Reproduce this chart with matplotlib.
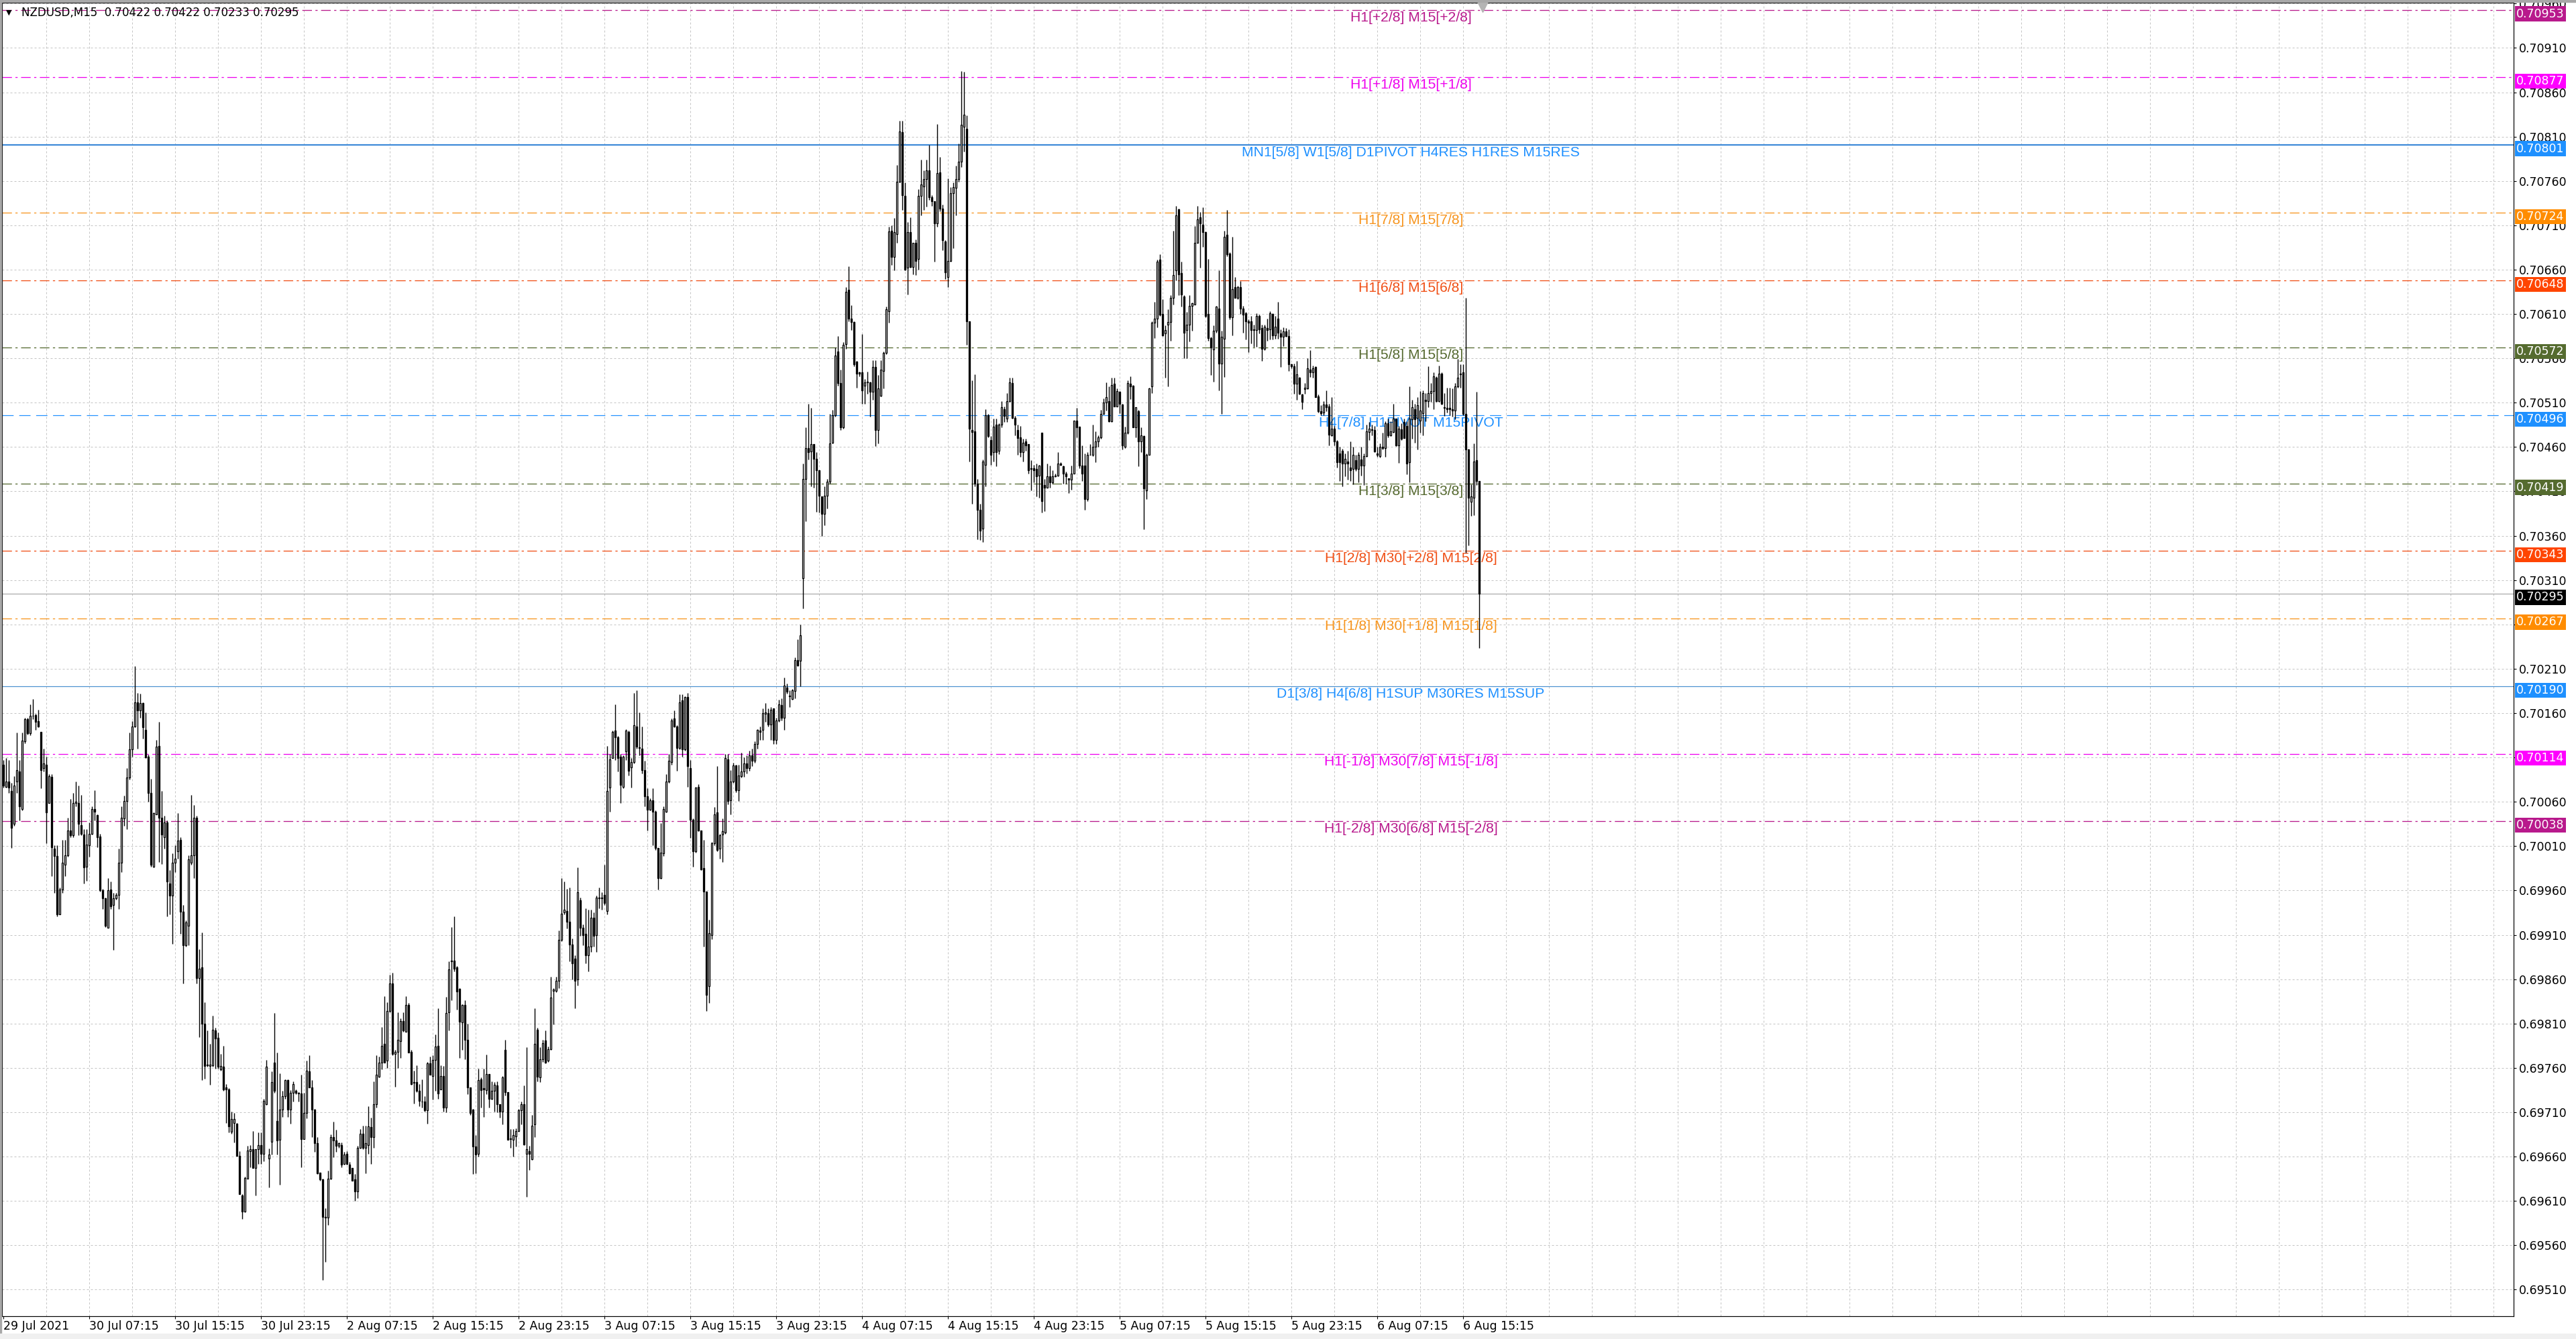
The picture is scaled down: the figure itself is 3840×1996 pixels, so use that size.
import numpy as np
import matplotlib
matplotlib.use("Agg")
import matplotlib.pyplot as plt
from matplotlib.patches import Rectangle

SYMBOL = "NZDUSD,M15"
POINT = 1e-5

# M15 candles, prices in points (1e-5)
OPEN = [
    70102, 70077, 70083, 70072, 70035, 70083, 70094, 70052, 70128, 70153,
    70137, 70157, 70158, 70151, 70139, 70098, 70102, 70059, 70088, 70007,
    69999, 69933, 69961, 69989, 70000, 70028, 70022, 70059, 70059, 70034,
    70023, 69987, 70011, 70024, 70052, 70045, 70021, 69960, 69951, 69918,
    69961, 69944, 69951, 69955, 69991, 70041, 70061, 70087, 70119, 70145,
    70172, 70163, 70171, 70141, 70111, 70070, 69987, 70046, 70123, 70042,
    70020, 70037, 69968, 69954, 69991, 70004, 70017, 69936, 69898, 69920,
    69991, 70000, 70042, 69861, 69873, 69810, 69763, 69762, 69763, 69802,
    69794, 69758, 69761, 69738, 69736, 69688, 69698, 69697, 69661, 69616,
    69598, 69635, 69666, 69668, 69647, 69668, 69673, 69663, 69719, 69658,
    69677, 69766, 69700, 69679, 69713, 69728, 69746, 69713, 69732, 69734,
    69732, 69731, 69680, 69709, 69756, 69738, 69713, 69675, 69642, 69634,
    69592, 69591, 69635, 69682, 69678, 69672, 69673, 69652, 69663, 69651,
    69647, 69634, 69621, 69670, 69686, 69670, 69673, 69693, 69682, 69719,
    69750, 69766, 69787, 69768, 69824, 69855, 69776, 69778, 69790, 69813,
    69801, 69831, 69778, 69743, 69744, 69734, 69722, 69722, 69712, 69765,
    69751, 69769, 69785, 69736, 69751, 69715, 69823, 69880, 69881, 69873,
    69849, 69811, 69831, 69792, 69738, 69713, 69671, 69663, 69747, 69737,
    69735, 69753, 69725, 69734, 69740, 69719, 69711, 69780, 69733, 69680,
    69679, 69683, 69689, 69712, 69719, 69663, 69666, 69657, 69696, 69803,
    69749, 69770, 69791, 69768, 69781, 69847, 69847, 69858, 69904, 69935,
    69937, 69925, 69899, 69883, 69860, 69949, 69918, 69911, 69887, 69897,
    69929, 69910, 69951, 69952, 69955, 69937, 70076, 70109, 70140, 70133,
    70111, 70077, 70117, 70139, 70099, 70105, 70145, 70121, 70120, 70096,
    70066, 70051, 70062, 70049, 70008, 69974, 70002, 70049, 70083, 70105,
    70154, 70145, 70121, 70174, 70119, 70178, 70098, 70040, 70004, 70077,
    70028, 69985, 69959, 69852, 69910, 70013, 70048, 70007, 70023, 70025,
    70108, 70062, 70083, 70101, 70073, 70089, 70094, 70103, 70098, 70112,
    70106, 70125, 70140, 70141, 70159, 70160, 70147, 70165, 70130, 70152,
    70169, 70155, 70189, 70180, 70176, 70185, 70220, 70219, 70312, 70424,
    70459, 70455, 70463, 70447, 70434, 70404, 70385, 70405, 70421, 70465,
    70496, 70568, 70532, 70482, 70576, 70637, 70605, 70601, 70556, 70544,
    70544, 70529, 70533, 70533, 70522, 70550, 70479, 70518, 70546, 70566,
    70613, 70704, 70674, 70700, 70759, 70815, 70743, 70662, 70702, 70663,
    70690, 70672, 70743, 70754, 70762, 70772, 70742, 70737, 70712, 70770,
    70729, 70692, 70652, 70670, 70746, 70752, 70762, 70782, 70821, 70819,
    70602, 70479, 70478, 70419, 70389, 70368, 70440, 70496, 70468, 70454,
    70485, 70456, 70485, 70503, 70492, 70512, 70532, 70493, 70479, 70471,
    70454, 70466, 70463, 70436, 70436, 70435, 70428, 70476, 70417, 70414,
    70427, 70420, 70427, 70428, 70441, 70438, 70430, 70425, 70423, 70430,
    70490, 70483, 70439, 70439, 70401, 70451, 70451, 70460, 70466, 70471,
    70497, 70510, 70512, 70489, 70531, 70506, 70522, 70508, 70460, 70476,
    70531, 70529, 70482, 70500, 70466, 70472, 70411, 70451, 70528, 70600,
    70605, 70671, 70610, 70588, 70598, 70601, 70628, 70659, 70728, 70656,
    70630, 70592, 70598, 70619, 70621, 70690, 70719, 70711, 70702, 70610,
    70583, 70570, 70591, 70616, 70554, 70582, 70699, 70678, 70606, 70640,
    70628, 70640, 70616, 70611, 70602, 70602, 70593, 70592, 70608, 70594,
    70571, 70594, 70593, 70610, 70586, 70605, 70588, 70584, 70590, 70585,
    70553, 70551, 70531, 70538, 70519, 70525, 70526, 70547, 70544, 70550,
    70517, 70500, 70499, 70508, 70506, 70473, 70481, 70466, 70453, 70456,
    70441, 70444, 70437, 70435, 70445, 70435, 70446, 70439, 70450, 70477,
    70480, 70479, 70453, 70450, 70460, 70459, 70487, 70473, 70477, 70492,
    70462, 70480, 70488, 70484, 70443, 70491, 70503, 70493, 70490, 70498,
    70513, 70512, 70521, 70523, 70538, 70512, 70543, 70505, 70504, 70504,
    70503, 70501, 70528, 70542, 70544, 70497, 70457, 70398, 70403, 70445,
    70422,
]
HIGH = [
    70107, 70109, 70107, 70081, 70089, 70138, 70107, 70138, 70155, 70155,
    70170, 70176, 70159, 70164, 70139, 70120, 70111, 70091, 70091, 70011,
    70011, 69963, 70017, 70017, 70042, 70063, 70070, 70083, 70078, 70068,
    70029, 70029, 70037, 70055, 70073, 70046, 70024, 69962, 69952, 69974,
    69970, 69957, 69957, 70007, 70055, 70067, 70098, 70138, 70151, 70213,
    70183, 70182, 70172, 70161, 70113, 70086, 70048, 70130, 70150, 70072,
    70044, 70039, 69983, 70002, 70011, 70047, 70020, 69944, 69926, 70000,
    70068, 70056, 70044, 69894, 69913, 69834, 69802, 69787, 69819, 69805,
    69800, 69776, 69785, 69742, 69737, 69711, 69709, 69698, 69666, 69618,
    69637, 69672, 69673, 69689, 69668, 69687, 69687, 69725, 69769, 69669,
    69756, 69822, 69777, 69754, 69734, 69747, 69747, 69735, 69745, 69736,
    69733, 69752, 69732, 69768, 69774, 69746, 69714, 69682, 69642, 69635,
    69602, 69644, 69685, 69699, 69690, 69676, 69676, 69665, 69666, 69654,
    69647, 69640, 69672, 69691, 69695, 69695, 69717, 69704, 69745, 69774,
    69773, 69806, 69841, 69834, 69865, 69867, 69780, 69823, 69816, 69823,
    69841, 69833, 69780, 69757, 69763, 69742, 69747, 69728, 69767, 69773,
    69774, 69798, 69827, 69763, 69762, 69840, 69880, 69919, 69931, 69875,
    69850, 69832, 69836, 69810, 69738, 69714, 69684, 69759, 69749, 69759,
    69775, 69753, 69745, 69744, 69745, 69719, 69751, 69792, 69733, 69691,
    69691, 69692, 69714, 69722, 69740, 69783, 69672, 69707, 69827, 69805,
    69783, 69792, 69802, 69784, 69863, 69850, 69863, 69915, 69974, 69970,
    69962, 69963, 69906, 69887, 69986, 69952, 69922, 69940, 69938, 69938,
    69935, 69954, 69963, 69958, 69989, 70123, 70114, 70140, 70170, 70134,
    70114, 70112, 70142, 70140, 70109, 70183, 70186, 70161, 70145, 70106,
    70075, 70064, 70075, 70050, 70008, 70036, 70055, 70091, 70114, 70154,
    70163, 70146, 70181, 70181, 70179, 70183, 70107, 70041, 70077, 70080,
    70028, 70017, 69959, 69927, 70015, 70054, 70100, 70024, 70041, 70114,
    70114, 70096, 70104, 70102, 70102, 70115, 70110, 70112, 70118, 70120,
    70128, 70142, 70145, 70165, 70171, 70165, 70167, 70165, 70155, 70175,
    70177, 70200, 70193, 70186, 70187, 70223, 70243, 70260, 70441, 70482,
    70509, 70504, 70463, 70454, 70434, 70404, 70416, 70424, 70497, 70502,
    70572, 70585, 70547, 70578, 70640, 70664, 70620, 70602, 70557, 70545,
    70587, 70537, 70545, 70534, 70558, 70558, 70541, 70558, 70568, 70618,
    70708, 70710, 70718, 70778, 70828, 70828, 70758, 70714, 70719, 70690,
    70694, 70751, 70784, 70772, 70784, 70801, 70744, 70737, 70824, 70787,
    70733, 70693, 70763, 70753, 70758, 70777, 70802, 70884, 70883, 70834,
    70602, 70535, 70542, 70424, 70396, 70446, 70503, 70497, 70472, 70492,
    70492, 70487, 70512, 70506, 70521, 70538, 70538, 70495, 70485, 70484,
    70469, 70469, 70463, 70445, 70440, 70441, 70440, 70476, 70424, 70441,
    70439, 70434, 70430, 70454, 70443, 70439, 70432, 70425, 70439, 70490,
    70504, 70483, 70462, 70453, 70454, 70463, 70485, 70478, 70473, 70502,
    70515, 70533, 70528, 70538, 70538, 70526, 70523, 70509, 70483, 70535,
    70540, 70530, 70505, 70502, 70482, 70473, 70453, 70527, 70602, 70624,
    70671, 70677, 70627, 70597, 70615, 70631, 70704, 70732, 70729, 70669,
    70631, 70612, 70631, 70623, 70709, 70732, 70725, 70730, 70703, 70672,
    70584, 70597, 70619, 70659, 70591, 70704, 70727, 70680, 70697, 70652,
    70642, 70647, 70619, 70612, 70604, 70608, 70598, 70611, 70609, 70598,
    70598, 70605, 70613, 70611, 70608, 70624, 70593, 70595, 70594, 70593,
    70554, 70554, 70557, 70539, 70520, 70532, 70560, 70569, 70552, 70551,
    70519, 70507, 70512, 70524, 70509, 70516, 70484, 70468, 70460, 70458,
    70453, 70456, 70466, 70460, 70451, 70454, 70460, 70453, 70485, 70488,
    70485, 70484, 70460, 70464, 70476, 70489, 70492, 70489, 70509, 70492,
    70484, 70487, 70492, 70489, 70528, 70513, 70509, 70516, 70523, 70524,
    70521, 70551, 70532, 70544, 70540, 70552, 70544, 70521, 70527, 70527,
    70526, 70532, 70559, 70553, 70553, 70628, 70458, 70418, 70464, 70522,
    70422,
]
LOW = [
    70076, 70076, 70070, 70008, 70033, 70070, 70039, 70050, 70126, 70136,
    70135, 70153, 70141, 70144, 70075, 70094, 70013, 70059, 69976, 69957,
    69931, 69933, 69957, 69976, 69998, 70020, 70020, 70055, 70022, 70022,
    69968, 69971, 69998, 70023, 70039, 70009, 69959, 69939, 69919, 69918,
    69939, 69893, 69950, 69939, 69981, 70033, 70029, 70085, 70111, 70144,
    70120, 70155, 70131, 70109, 70060, 69987, 69986, 70046, 69992, 69990,
    70007, 69931, 69933, 69900, 69981, 69996, 69911, 69855, 69897, 69898,
    69989, 69974, 69855, 69795, 69746, 69748, 69761, 69741, 69761, 69759,
    69759, 69757, 69734, 69698, 69687, 69686, 69676, 69661, 69618, 69590,
    69597, 69635, 69648, 69647, 69616, 69652, 69652, 69655, 69718, 69625,
    69662, 69732, 69662, 69628, 69705, 69725, 69705, 69697, 69722, 69730,
    69722, 69648, 69680, 69703, 69738, 69682, 69665, 69640, 69633, 69521,
    69541, 69583, 69634, 69659, 69665, 69670, 69648, 69651, 69651, 69640,
    69633, 69610, 69613, 69669, 69668, 69641, 69663, 69652, 69670, 69715,
    69749, 69758, 69766, 69760, 69823, 69774, 69739, 69760, 69771, 69801,
    69801, 69777, 69741, 69720, 69733, 69717, 69715, 69711, 69697, 69752,
    69724, 69734, 69725, 69736, 69711, 69710, 69802, 69836, 69869, 69826,
    69771, 69780, 69770, 69730, 69707, 69640, 69641, 69660, 69715, 69705,
    69730, 69715, 69724, 69711, 69710, 69704, 69696, 69729, 69679, 69670,
    69660, 69671, 69688, 69696, 69673, 69615, 69645, 69656, 69682, 69745,
    69744, 69767, 69765, 69767, 69780, 69809, 69845, 69850, 69903, 69933,
    69917, 69880, 69860, 69827, 69853, 69909, 69898, 69878, 69869, 69891,
    69897, 69891, 69940, 69938, 69944, 69933, 70049, 70109, 70107, 70094,
    70059, 70075, 70107, 70090, 70076, 70103, 70120, 70112, 70092, 70055,
    70028, 70050, 70011, 70006, 69961, 69973, 69999, 70048, 70081, 70102,
    70144, 70095, 70119, 70111, 70118, 70077, 70019, 69987, 70003, 70027,
    69983, 69897, 69824, 69833, 69905, 70011, 70004, 69996, 69992, 70024,
    70057, 70046, 70081, 70071, 70061, 70087, 70088, 70092, 70095, 70100,
    70104, 70120, 70130, 70130, 70150, 70145, 70130, 70125, 70125, 70150,
    70152, 70141, 70182, 70167, 70175, 70177, 70213, 70190, 70278, 70376,
    70446, 70416, 70414, 70387, 70386, 70360, 70372, 70391, 70419, 70464,
    70494, 70529, 70479, 70481, 70571, 70602, 70592, 70551, 70527, 70540,
    70509, 70509, 70520, 70494, 70513, 70461, 70464, 70517, 70526, 70565,
    70600, 70665, 70659, 70690, 70758, 70727, 70659, 70632, 70662, 70655,
    70654, 70660, 70721, 70727, 70731, 70739, 70732, 70669, 70708, 70726,
    70682, 70649, 70640, 70669, 70684, 70721, 70759, 70776, 70793, 70575,
    70444, 70396, 70416, 70356, 70355, 70353, 70416, 70471, 70440, 70444,
    70438, 70452, 70482, 70488, 70488, 70511, 70492, 70473, 70451, 70449,
    70444, 70456, 70430, 70411, 70420, 70404, 70403, 70386, 70388, 70414,
    70414, 70419, 70426, 70427, 70439, 70419, 70419, 70408, 70412, 70430,
    70471, 70436, 70422, 70389, 70399, 70451, 70450, 70443, 70460, 70469,
    70497, 70501, 70488, 70488, 70506, 70506, 70498, 70457, 70459, 70475,
    70514, 70482, 70471, 70438, 70454, 70367, 70401, 70451, 70521, 70583,
    70595, 70608, 70585, 70538, 70528, 70580, 70621, 70648, 70631, 70618,
    70560, 70560, 70579, 70591, 70621, 70690, 70662, 70686, 70606, 70580,
    70541, 70534, 70589, 70524, 70497, 70539, 70675, 70604, 70586, 70628,
    70627, 70610, 70589, 70581, 70567, 70577, 70573, 70573, 70588, 70557,
    70569, 70580, 70581, 70581, 70582, 70582, 70550, 70574, 70584, 70546,
    70549, 70520, 70513, 70519, 70503, 70520, 70525, 70539, 70538, 70516,
    70499, 70496, 70496, 70500, 70462, 70472, 70462, 70437, 70422, 70416,
    70427, 70423, 70422, 70418, 70433, 70420, 70428, 70417, 70449, 70468,
    70473, 70454, 70449, 70448, 70457, 70449, 70471, 70472, 70476, 70461,
    70442, 70468, 70470, 70429, 70420, 70469, 70465, 70457, 70476, 70473,
    70489, 70505, 70511, 70503, 70511, 70511, 70508, 70495, 70499, 70496,
    70494, 70491, 70527, 70527, 70496, 70341, 70349, 70382, 70383, 70417,
    70233,
]
CLOSE = [
    70078, 70083, 70076, 70031, 70078, 70096, 70055, 70129, 70153, 70137,
    70157, 70157, 70150, 70145, 70096, 70103, 70048, 70089, 70009, 69999,
    69933, 69961, 69991, 70000, 70028, 70022, 70059, 70060, 70035, 70024,
    69986, 70012, 70024, 70052, 70049, 70020, 69960, 69951, 69920, 69960,
    69942, 69951, 69955, 69991, 70042, 70061, 70087, 70119, 70145, 70172,
    70163, 70171, 70144, 70110, 70070, 69989, 70047, 70122, 70042, 70023,
    70037, 69970, 69954, 69991, 69996, 70016, 69936, 69898, 69924, 69995,
    70000, 70042, 69861, 69872, 69810, 69762, 69763, 69764, 69803, 69793,
    69761, 69762, 69736, 69736, 69694, 69702, 69702, 69661, 69618, 69598,
    69636, 69667, 69668, 69647, 69668, 69673, 69663, 69723, 69761, 69662,
    69744, 69734, 69678, 69713, 69728, 69746, 69713, 69732, 69742, 69732,
    69731, 69680, 69709, 69757, 69738, 69713, 69675, 69641, 69634, 69592,
    69591, 69635, 69682, 69678, 69672, 69675, 69651, 69662, 69652, 69641,
    69633, 69621, 69670, 69686, 69670, 69675, 69694, 69682, 69719, 69752,
    69766, 69785, 69766, 69824, 69855, 69776, 69778, 69792, 69813, 69802,
    69831, 69777, 69742, 69744, 69734, 69723, 69722, 69712, 69765, 69752,
    69769, 69784, 69731, 69751, 69715, 69822, 69871, 69881, 69872, 69846,
    69812, 69831, 69792, 69738, 69709, 69671, 69662, 69746, 69735, 69736,
    69753, 69725, 69734, 69741, 69719, 69711, 69749, 69733, 69679, 69680,
    69684, 69689, 69712, 69719, 69674, 69668, 69663, 69695, 69787, 69750,
    69770, 69788, 69766, 69781, 69839, 69848, 69858, 69904, 69934, 69938,
    69925, 69899, 69878, 69858, 69958, 69918, 69910, 69887, 69897, 69929,
    69909, 69952, 69952, 69951, 69946, 70072, 70108, 70139, 70133, 70109,
    70079, 70111, 70140, 70095, 70105, 70146, 70122, 70121, 70096, 70066,
    70051, 70062, 70049, 70008, 69974, 70003, 70052, 70083, 70106, 70152,
    70145, 70121, 70172, 70119, 70178, 70100, 70040, 70004, 70076, 70028,
    69984, 69959, 69842, 69912, 70013, 70046, 70006, 70022, 70027, 70109,
    70061, 70083, 70101, 70073, 70090, 70094, 70103, 70098, 70112, 70106,
    70125, 70141, 70139, 70160, 70161, 70147, 70164, 70130, 70152, 70170,
    70155, 70191, 70184, 70179, 70186, 70220, 70214, 70248, 70424, 70459,
    70454, 70463, 70447, 70434, 70405, 70385, 70405, 70421, 70464, 70496,
    70563, 70532, 70482, 70575, 70635, 70605, 70601, 70553, 70543, 70543,
    70524, 70533, 70533, 70522, 70550, 70479, 70526, 70547, 70566, 70615,
    70703, 70674, 70702, 70759, 70816, 70744, 70660, 70702, 70663, 70690,
    70670, 70743, 70756, 70762, 70772, 70742, 70737, 70712, 70769, 70729,
    70693, 70657, 70670, 70746, 70753, 70762, 70782, 70823, 70835, 70602,
    70481, 70477, 70419, 70389, 70366, 70444, 70496, 70472, 70451, 70483,
    70454, 70485, 70505, 70495, 70512, 70533, 70493, 70485, 70470, 70454,
    70465, 70462, 70434, 70435, 70434, 70427, 70439, 70399, 70414, 70427,
    70420, 70427, 70428, 70441, 70440, 70430, 70427, 70423, 70430, 70490,
    70482, 70439, 70430, 70401, 70451, 70451, 70460, 70466, 70471, 70497,
    70510, 70516, 70489, 70530, 70506, 70523, 70509, 70462, 70476, 70532,
    70528, 70482, 70505, 70466, 70473, 70413, 70451, 70526, 70600, 70605,
    70669, 70609, 70586, 70592, 70601, 70628, 70654, 70721, 70655, 70632,
    70589, 70598, 70619, 70622, 70690, 70717, 70712, 70702, 70608, 70583,
    70572, 70591, 70618, 70554, 70584, 70697, 70677, 70606, 70638, 70628,
    70640, 70616, 70609, 70602, 70600, 70592, 70592, 70608, 70593, 70571,
    70596, 70592, 70611, 70586, 70596, 70589, 70584, 70590, 70585, 70553,
    70551, 70531, 70542, 70520, 70511, 70527, 70549, 70544, 70549, 70516,
    70500, 70498, 70508, 70505, 70474, 70481, 70466, 70443, 70443, 70441,
    70447, 70441, 70434, 70451, 70435, 70451, 70439, 70450, 70478, 70481,
    70479, 70455, 70451, 70460, 70459, 70487, 70473, 70478, 70492, 70462,
    70481, 70469, 70470, 70441, 70492, 70505, 70491, 70507, 70501, 70521,
    70512, 70521, 70523, 70540, 70512, 70543, 70509, 70504, 70503, 70503,
    70501, 70528, 70538, 70543, 70497, 70457, 70403, 70404, 70444, 70422,
    70295,
]

TIME_LABELS = [
    "29 Jul 2021", "30 Jul 07:15", "30 Jul 15:15", "30 Jul 23:15",
    "2 Aug 07:15", "2 Aug 15:15", "2 Aug 23:15", "3 Aug 07:15",
    "3 Aug 15:15", "3 Aug 23:15", "4 Aug 07:15", "4 Aug 15:15",
    "4 Aug 23:15", "5 Aug 07:15", "5 Aug 15:15", "5 Aug 23:15",
    "6 Aug 07:15", "6 Aug 15:15",
]
LABEL_EVERY = 32   # bars between time labels
GRID_EVERY = 16    # bars between vertical grid lines

# Murrey / pivot levels drawn by the indicator
LEVEL_PRICES = [0.70953, 0.70877, 0.70801, 0.70724, 0.70648, 0.70572, 0.70496,
                0.70419, 0.70343, 0.70267, 0.70190, 0.70114, 0.70038]
LEVEL_TEXTS = [
    "H1[+2/8] M15[+2/8]",
    "H1[+1/8] M15[+1/8]",
    "MN1[5/8] W1[5/8] D1PIVOT H4RES H1RES M15RES",
    "H1[7/8] M15[7/8]",
    "H1[6/8] M15[6/8]",
    "H1[5/8] M15[5/8]",
    "H4[7/8] H1PIVOT M15PIVOT",
    "H1[3/8] M15[3/8]",
    "H1[2/8] M30[+2/8] M15[2/8]",
    "H1[1/8] M30[+1/8] M15[1/8]",
    "D1[3/8] H4[6/8] H1SUP M30RES M15SUP",
    "H1[-1/8] M30[7/8] M15[-1/8]",
    "H1[-2/8] M30[6/8] M15[-2/8]",
]
LEVEL_COLORS = ["#b8198c", "#ee00ee", "#1e90ff", "#f7941d", "#f04e14", "#55692f",
                "#1e90ff", "#55692f", "#f04e14", "#f7941d", "#1e90ff", "#ee00ee",
                "#b8198c"]
BOX_COLORS = ["#b8198c", "#ff00ff", "#1e90ff", "#ff8c00", "#ff4500", "#556b2f",
              "#1e90ff", "#556b2f", "#ff4500", "#ff8c00", "#1e90ff", "#ff00ff",
              "#b8198c"]
LEVEL_STYLES = ["dashdot", "dashdot", "thick", "dashdot", "dashdot", "dashdot",
                "dashed", "dashdot", "dashdot", "dashdot", "solid", "dashdot",
                "dashdot"]

W, H, DPI = 3840, 1996, 100
PX = 72.0 / DPI  # one pixel in points

n = min(len(OPEN), len(HIGH), len(LOW), len(CLOSE))
o = np.array(OPEN[:n]) * POINT
c = np.array(CLOSE[:n]) * POINT
h = np.maximum(np.array(HIGH[:n]) * POINT, np.maximum(o, c))
l = np.minimum(np.array(LOW[:n]) * POINT, np.minimum(o, c))
x = np.arange(n)

fig = plt.figure(figsize=(W / DPI, H / DPI), dpi=DPI, facecolor="white")
ax = fig.add_axes([3 / W, 34 / H, 3744 / W, 1958 / H])
ax.set_facecolor("white")
ax.set_xlim(-0.575, 935.4)
ax.set_ylim(0.69480, 0.70961)

# grid
price_ticks = np.arange(69510, 70961, 50) * POINT
grid_kw = dict(color="#c4c4c4", lw=PX, ls=(0, (3, 3)), zorder=1)
for p in price_ticks:
    ax.axhline(p, **grid_kw)
for b in range(GRID_EVERY, 936, GRID_EVERY):
    ax.axvline(b, **grid_kw)

# level lines + captions
X_CAPTION = 524.4
for p, txt, col, st in zip(LEVEL_PRICES, LEVEL_TEXTS, LEVEL_COLORS, LEVEL_STYLES):
    if st == "dashdot":
        ax.axhline(p, color=col, lw=1.3 * PX, ls=(0, (11, 4, 2.5, 4)), zorder=2)
    elif st == "dashed":
        ax.axhline(p, color=col, lw=1.2 * PX, ls=(0, (14, 7)), zorder=2)
    elif st == "thick":
        ax.axhline(p, color="#3d8ad8", lw=2.2 * PX, zorder=2)
    else:
        ax.axhline(p, color="#4a90d0", lw=1.2 * PX, zorder=2)
    ax.annotate(txt, xy=(X_CAPTION, p), xytext=(0, -1.5), textcoords="offset points",
                ha="center", va="top", fontsize=15.2, color=col,
                family="Liberation Sans", zorder=2.6)

# last price line
ax.axhline(c[-1], color="#a8a8a8", lw=1.2 * PX, zorder=2)

# candles
ax.vlines(x, l, h, color="black", lw=1.4 * PX, zorder=3)
body_lo = np.minimum(o, c)
body_h = np.maximum(np.abs(c - o), 0.3 * POINT)
ax.bar(x, body_h, bottom=body_lo, width=0.55,
       color=np.where(c >= o, "white", "black"),
       edgecolor="black", linewidth=1.3 * PX, zorder=4)

# chart shift marker
ax.plot([n + 0.2], [0.709575], marker="v", ms=13, color="#b4b4b4",
        mec="#b4b4b4", clip_on=False, zorder=6)

# axes look
for sp in ax.spines.values():
    sp.set_color("black")
    sp.set_linewidth(1.2 * PX)
ax.yaxis.tick_right()
ax.set_yticks(price_ticks)
ax.set_yticklabels([f"{p:.5f}" for p in price_ticks], family="DejaVu Sans")
ax.tick_params(axis="y", labelsize=12.5, length=3, width=0.8, pad=2.5,
               direction="out", colors="black")
tick_bars = [LABEL_EVERY * i for i in range(len(TIME_LABELS))]
ax.set_xticks(tick_bars)
ax.set_xticklabels(TIME_LABELS, family="DejaVu Sans")
ax.tick_params(axis="x", labelsize=12.5, length=3, width=0.8, pad=1.5,
               direction="out", colors="black")
for lab in ax.get_xticklabels():
    lab.set_horizontalalignment("left")

# price tags on the scale (MT4 draws them slightly below the level)
tag_kw = dict(xycoords=ax.get_yaxis_transform(), xytext=(3, -4.3),
              textcoords="offset points", ha="left", va="center",
              fontsize=12.5, color="white", family="DejaVu Sans",
              annotation_clip=False, zorder=10)
for p, col in zip(LEVEL_PRICES, BOX_COLORS):
    ax.annotate(f"{p:.5f}", xy=(1, p),
                bbox=dict(boxstyle="square,pad=0.12", fc=col, ec="none"), **tag_kw)
ax.annotate(f"{c[-1]:.5f}", xy=(1, c[-1]),
            bbox=dict(boxstyle="square,pad=0.12", fc="black", ec="none"), **tag_kw)

# header
header = f"{SYMBOL}  {o[-1]:.5f} {h[-1]:.5f} {l[-1]:.5f} {c[-1]:.5f}"
fig.text(32 / W, 1 - 19 / H, header, ha="left", va="center", fontsize=12,
         family="DejaVu Sans", color="black")
fig.text(9 / W, 1 - 19 / H, "\u25bc", ha="left", va="center", fontsize=8,
         family="DejaVu Sans", color="black")

# window border bits
fig.patches.append(Rectangle((0, 1 - 3 / H), 1, 3 / H, transform=fig.transFigure,
                             color="#a8a8a8", zorder=0))
fig.patches.append(Rectangle((0, 0), 2 / W, 1, transform=fig.transFigure,
                             color="#a8a8a8", zorder=0))
fig.patches.append(Rectangle((0, 0), 1, 8 / H, transform=fig.transFigure,
                             color="#f0f0f0", zorder=0))

fig.savefig("out.png", dpi=DPI, facecolor="white")
